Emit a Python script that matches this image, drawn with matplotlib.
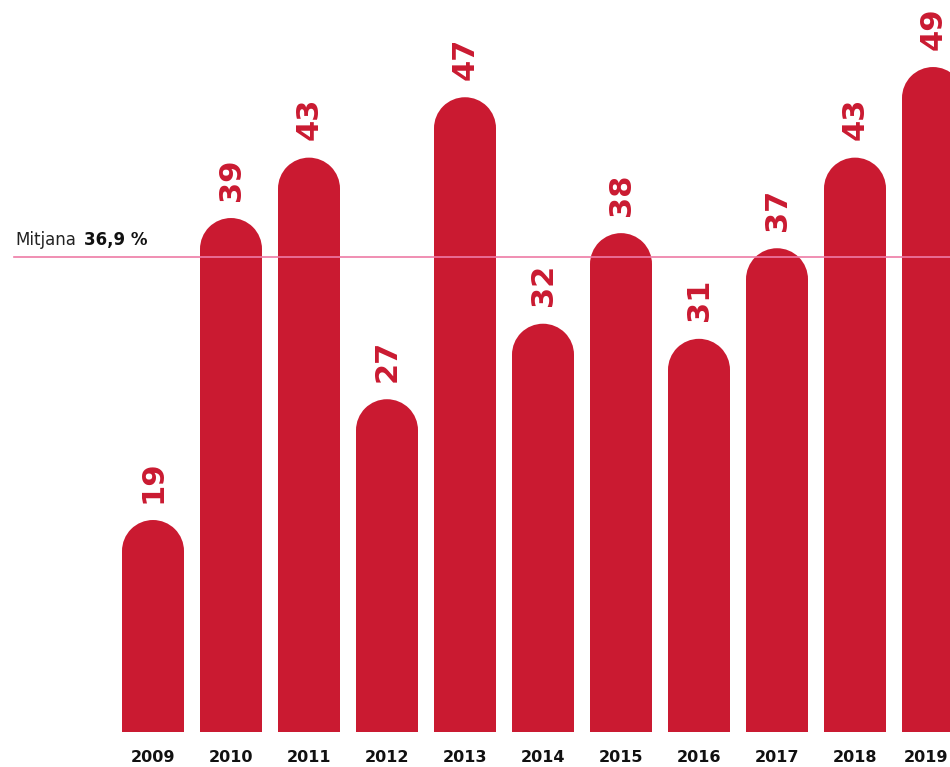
import matplotlib.pyplot as plt
from matplotlib.patches import Rectangle, Ellipse

years = ["2009", "2010", "2011", "2012", "2013", "2014", "2015", "2016", "2017", "2018", "2019"]
values = [19, 39, 43, 27, 47, 32, 38, 31, 37, 43, 49]
mean_label = "36,9 %"
# the mean line sits a touch lower than 36.9 in the original
mean_line_at = 36.45

red = "#CA1A31"
pink = "#EE7BA6"

fig = plt.figure(figsize=(9.5, 7.67), dpi=100)
ax = fig.add_axes([0, 1 - 732 / 767, 1, 732 / 767])

ymin, ymax = 4.96, 53.44
xmin, xmax = -153 / 78, (950 - 153) / 78
ax.set_xlim(xmin, xmax)
ax.set_ylim(ymin, ymax)
ax.axis("off")

w = 62 / 78
# cap height in data units so it draws as a round semicircle
cap_h = 62 * (ymax - ymin) / 732

for i, v in enumerate(values):
    ax.add_patch(Rectangle((i - w / 2, 0), w, v - cap_h / 2, color=red, lw=0))
    ax.add_patch(Ellipse((i, v - cap_h / 2), w, cap_h, color=red, lw=0))
    ax.text(i, v + 1.15, str(v), rotation=90, ha="center", va="bottom",
            color=red, fontsize=22, fontweight="bold")
    # last year label is pushed in so it stays on the canvas
    if i == len(values) - 1:
        tx, ha = xmax - 2 / 78, "right"
    else:
        tx, ha = i, "center"
    ax.text(tx, -25 / 732, years[i], transform=ax.get_xaxis_transform(),
            ha=ha, va="center", fontsize=11.5, fontweight="bold", color="#111111")

ax.axhline(mean_line_at, xmin=14 / 950, xmax=1, color=pink, lw=1.2, zorder=5)

fig.text(15 / 950, 1 - 240 / 767, "Mitjana", fontsize=12, color="#222222", va="center")
fig.text(84 / 950, 1 - 240 / 767, mean_label, fontsize=12, fontweight="bold",
         color="#111111", va="center")

fig.savefig("out.png", dpi=100)
